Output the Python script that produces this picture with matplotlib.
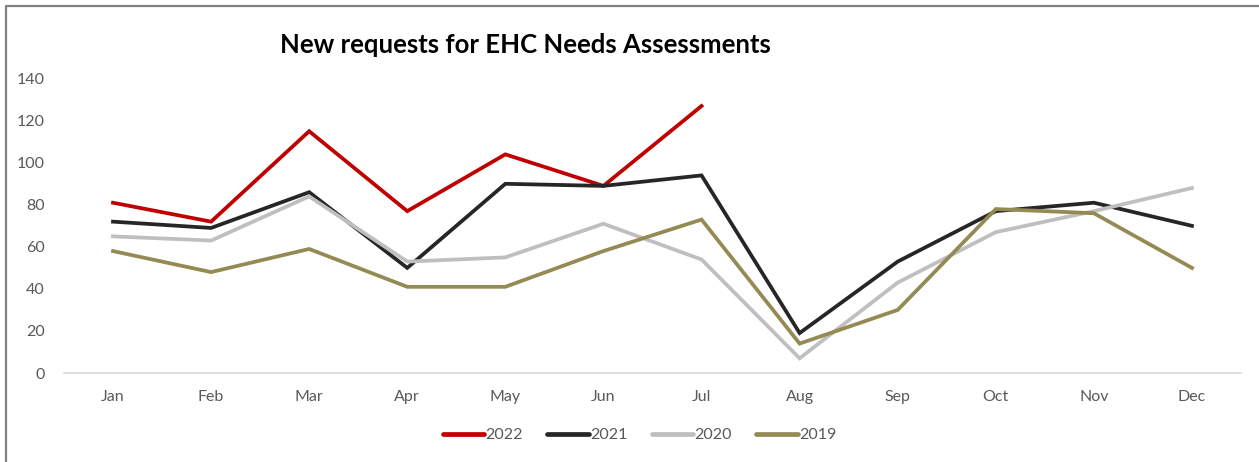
import numpy as np
import matplotlib.pyplot as plt
from matplotlib.lines import Line2D

plt.rcParams['font.family'] = ['Lato', 'DejaVu Sans']

months = ['Jan', 'Feb', 'Mar', 'Apr', 'May', 'Jun', 'Jul', 'Aug', 'Sep', 'Oct', 'Nov', 'Dec']
y2022 = [81, 72, 115, 77, 104, 89, 127]
y2021 = [72, 69, 86, 50, 90, 89, 94, 19, 53, 77, 81, 70]
y2020 = [65, 63, 84, 53, 55, 71, 54, 7, 43, 67, 77, 88]
y2019 = [58, 48, 59, 41, 41, 58, 73, 14, 30, 78, 76, 50]
series = ['2022', '2021', '2020', '2019']
colors = ['#C00000', '#262626', '#BFBFBF', '#948A54']

fig = plt.figure(figsize=(12.59, 4.62), dpi=100)
ax = fig.add_axes([0.0508, 0.1926, 0.9349, 0.6371])

x = np.arange(len(months))
for vals, lab, c in zip([y2022, y2021, y2020, y2019], series, colors):
    ax.plot(x[:len(vals)], vals, color=c, lw=2.7, label=lab, solid_joinstyle='miter')

ax.set_xlim(-0.5, 11.5)
ax.set_ylim(0, 140)
ax.set_yticks(range(0, 141, 20))
ax.set_xticks(x)
ax.set_xticklabels(months)
ax.tick_params(length=0, labelsize=11.5, colors='#595959')
ax.tick_params(axis='x', pad=12)
ax.tick_params(axis='y', pad=14)
for s in ['top', 'right', 'left']:
    ax.spines[s].set_visible(False)
ax.spines['bottom'].set_color('#D9D9D9')
ax.spines['bottom'].set_linewidth(1.2)

fig.text(0.417, 0.903, 'New requests for EHC Needs Assessments', ha='center', va='center',
         fontsize=18.5, fontweight='bold', color='black')

handles = [Line2D([0], [0], color=c, lw=3.4, solid_capstyle='round') for c in colors]
fig.legend(handles, series, loc='center', bbox_to_anchor=(0.508, 0.058), ncol=4, frameon=False,
           fontsize=11.5, handlelength=2.6, handletextpad=0.1, columnspacing=1.5, labelcolor='#595959')

# chart frame (top and left edges visible)
fig.add_artist(Line2D([0.0048, 0.0048, 1.0], [0.0, 0.987, 0.987], transform=fig.transFigure,
                      color='#808080', lw=1.6))

fig.savefig('out.png', dpi=100, facecolor='white')
